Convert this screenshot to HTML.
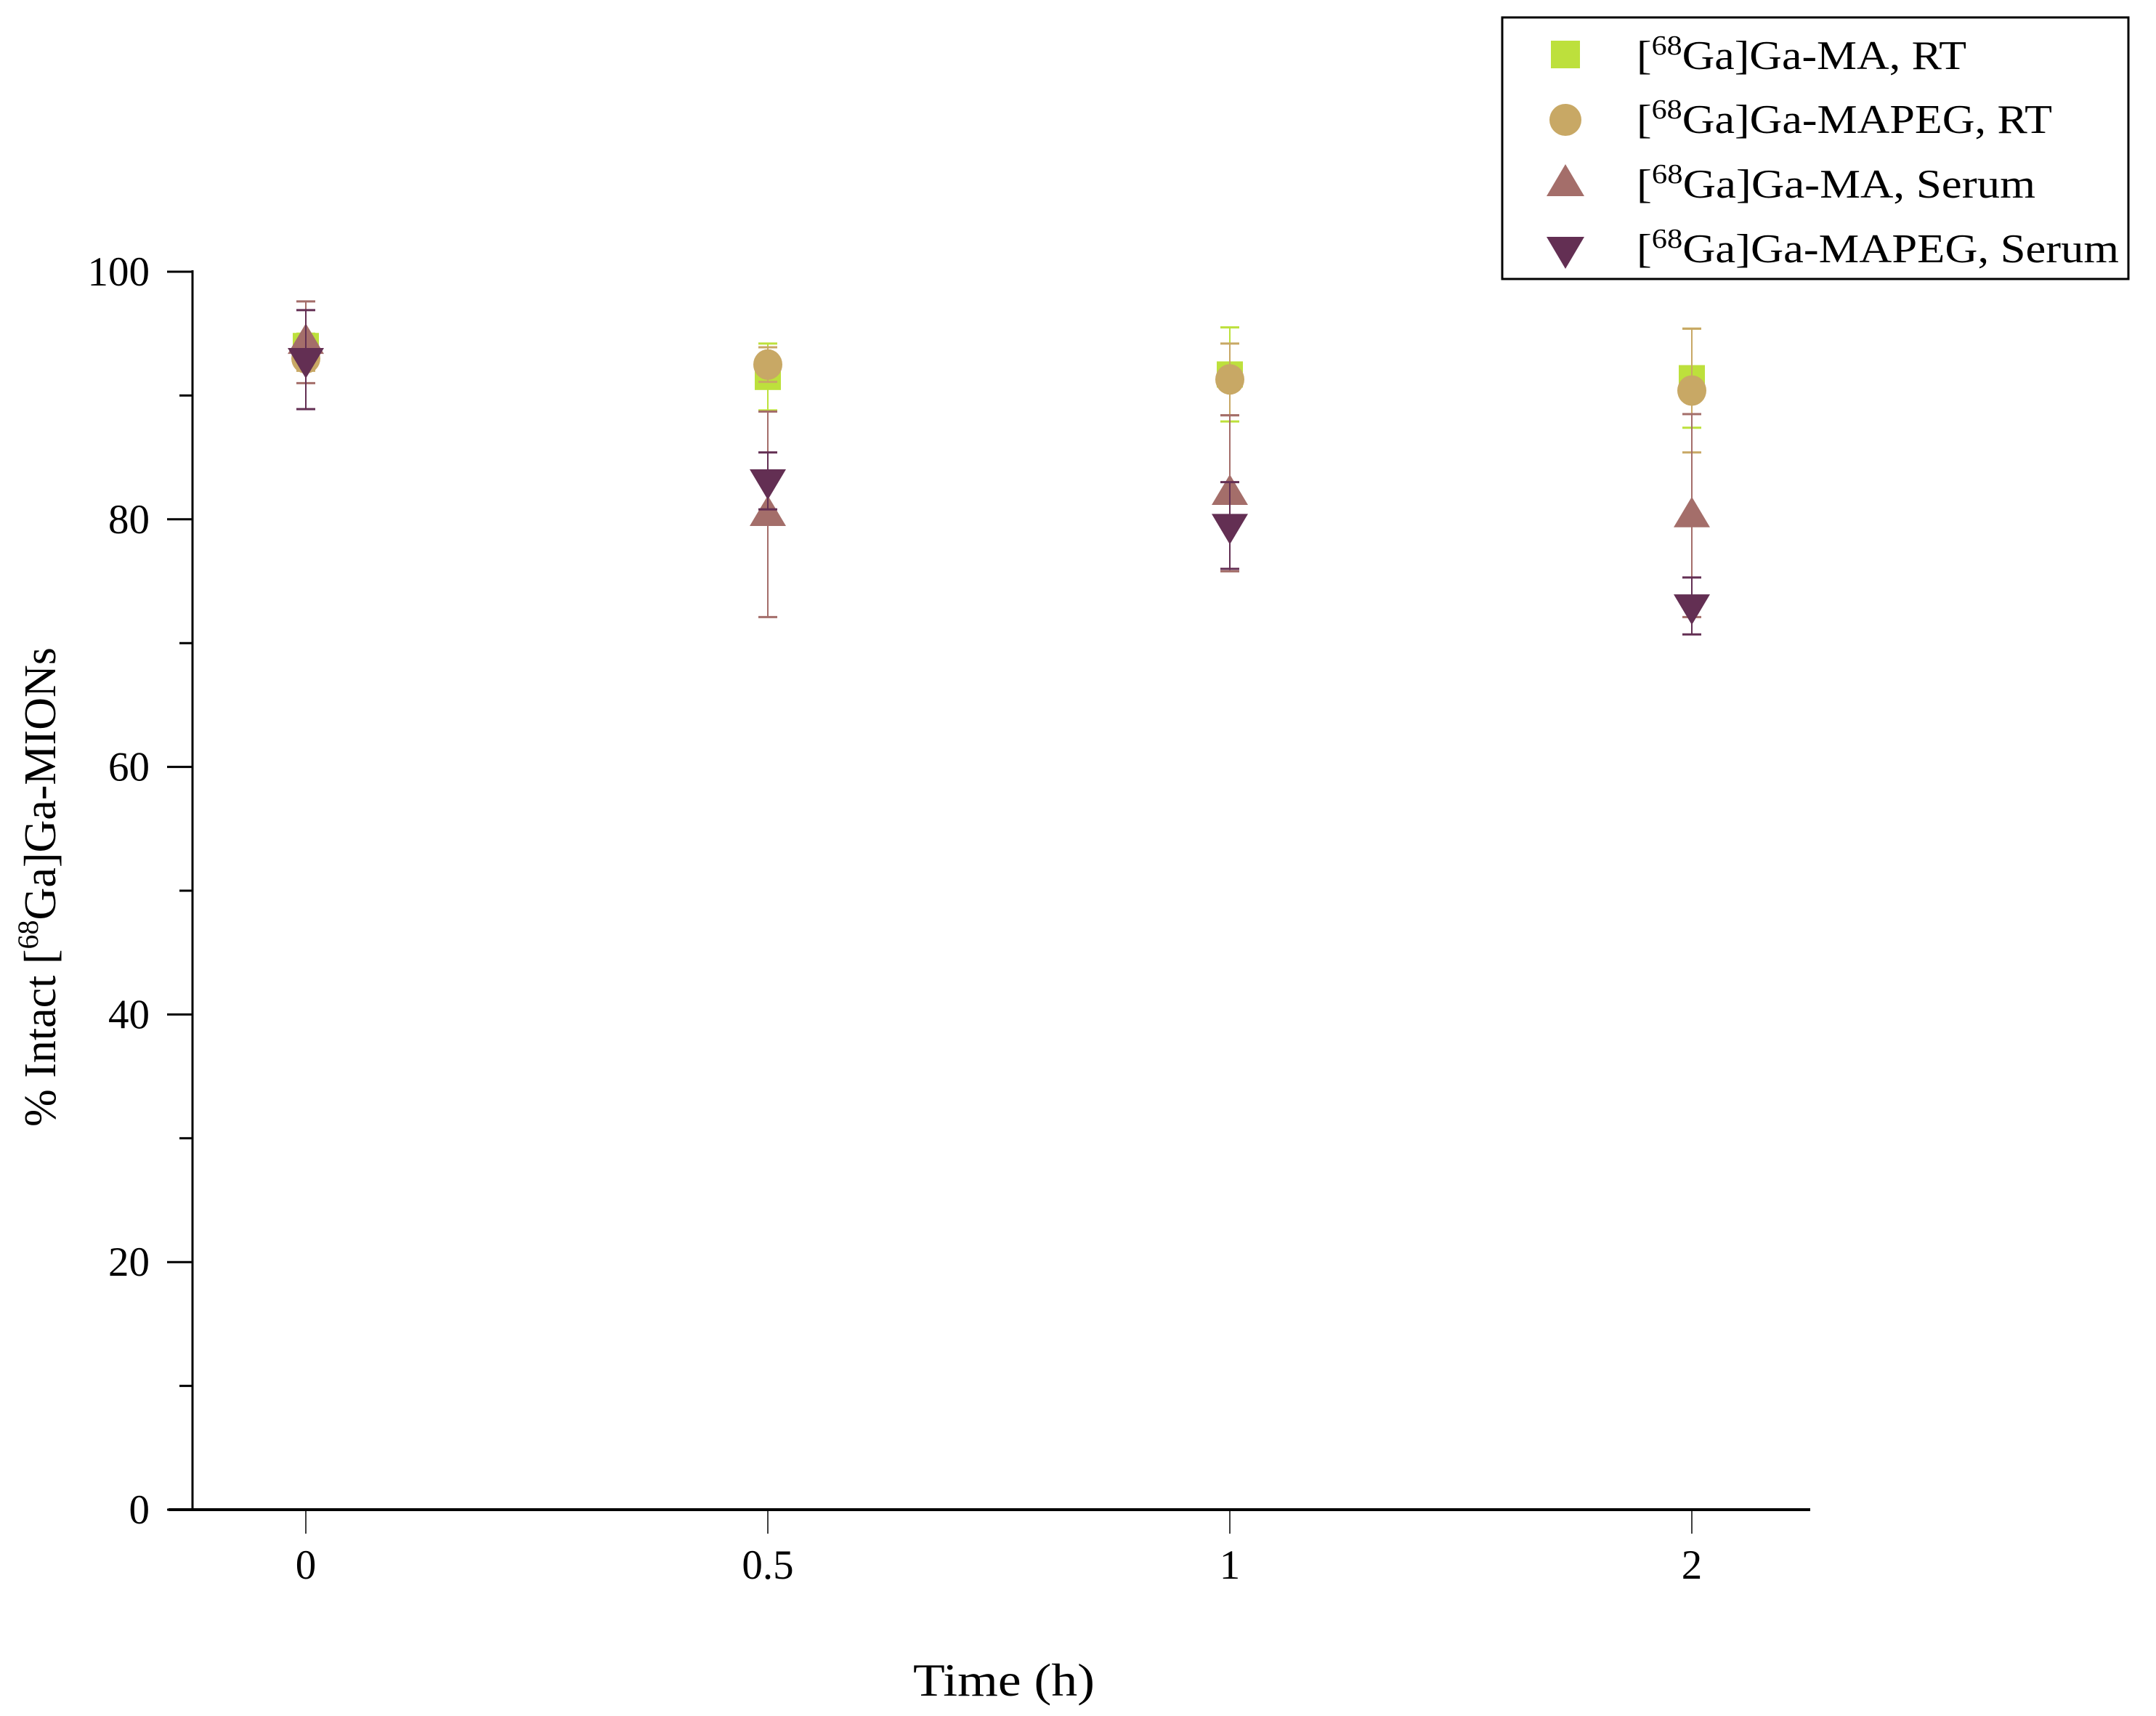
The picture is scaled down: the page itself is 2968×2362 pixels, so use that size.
<!DOCTYPE html>
<html><head><meta charset="utf-8">
<style>
html,body{margin:0;padding:0;background:#fff;}
svg{display:block;font-family:"Liberation Serif",serif;}
</style></head>
<body>
<svg id="chart" width="2968" height="2362" viewBox="0 0 2968 2362" xmlns="http://www.w3.org/2000/svg">
<g id="axes"></g>
<g id="plot"></g>
<text x="1382" y="2334" font-size="64" text-anchor="middle" textLength="250" lengthAdjust="spacingAndGlyphs">Time (h)</text>
<text transform="translate(76,1221) rotate(-90)" font-size="62" text-anchor="middle">% Intact [<tspan font-size="40" dy="-24">68</tspan><tspan dy="24">Ga]Ga-MIONs</tspan></text>
<g>
<rect x="2068" y="24" width="862" height="360" fill="#fff" stroke="#000" stroke-width="3"/>
<g>
<rect x="2135" y="56" width="40" height="38" fill="#bde03c"/>
<text x="2253" y="95" font-size="56" textLength="454" lengthAdjust="spacingAndGlyphs">[<tspan font-size="38" dy="-20">68</tspan><tspan dy="20">Ga]Ga-MA, RT</tspan></text></g>
<g>
<ellipse cx="2155" cy="165" rx="22" ry="22" fill="#c8a865"/>
<text x="2253" y="183" font-size="56" textLength="572" lengthAdjust="spacingAndGlyphs">[<tspan font-size="38" dy="-20">68</tspan><tspan dy="20">Ga]Ga-MAPEG, RT</tspan></text></g>
<g>
<polygon points="2155,226 2181,270 2129,270" fill="#a46e6a"/>
<text x="2253" y="272" font-size="56" textLength="549" lengthAdjust="spacingAndGlyphs">[<tspan font-size="38" dy="-20">68</tspan><tspan dy="20">Ga]Ga-MA, Serum</tspan></text></g>
<g>
<polygon points="2129,326 2181,326 2155,370" fill="#632f53"/>
<text x="2253" y="361" font-size="56" textLength="664" lengthAdjust="spacingAndGlyphs">[<tspan font-size="38" dy="-20">68</tspan><tspan dy="20">Ga]Ga-MAPEG, Serum</tspan></text></g>
</g>
</svg>
<script>
const categories = ["0", "0.5", "1", "2"];
const yTicks = [0, 20, 40, 60, 80, 100];
const maRT = [94.0, 91.5, 91.7, 91.4];
const maRTErr = [1.0, 2.7, 3.8, 4.0];
const mapegRT = [93.0, 92.5, 91.3, 90.4];
const mapegRTErr = [1.0, 1.4, 2.9, 5.0];
const maSerum = [94.3, 80.4, 82.1, 80.3];
const maSerumErr = [3.3, 8.3, 6.3, 8.2];
const mapegSerum = [92.9, 83.1, 79.5, 73.0];
const mapegSerumErr = [4.0, 2.3, 3.5, 2.3];

const NS = "http://www.w3.org/2000/svg";
const X0 = 421, DX = 636;
const Y0 = 2078, YH = 1704;
const yScale = v => Y0 - (v / 100) * YH;
const xScale = i => X0 + i * DX;
function mk(tag, attrs, parent) {
  const e = document.createElementNS(NS, tag);
  for (const k in attrs) e.setAttribute(k, attrs[k]);
  parent.appendChild(e);
  return e;
}
const axes = document.getElementById('axes');
const plot = document.getElementById('plot');
let e;
e = mk('line', {x1: 265, y1: yScale(100) - 2, x2: 265, y2: Y0, stroke: '#000', 'stroke-width': 3}, axes);


e = mk('line', {x1: 232, y1: Y0, x2: 2492, y2: Y0, stroke: '#000', 'stroke-width': 4}, axes);


for (let v = 0; v <= 100; v += 10) {
  const major = v % 20 === 0;
  e = mk('line', {x1: major ? 230 : 247, y1: yScale(v), x2: 265, y2: yScale(v), stroke: '#000', 'stroke-width': 3}, axes);
  
  
}
yTicks.forEach(v => {
  e = mk('text', {x: 206, y: yScale(v) + 19, 'font-size': 57, 'text-anchor': 'end'}, axes);
  e.textContent = v;
  
  
});
categories.forEach((c, i) => {
  e = mk('line', {x1: xScale(i), y1: Y0, x2: xScale(i), y2: Y0 + 33, stroke: '#000', 'stroke-width': 1.5}, axes);
  
  
  e = mk('text', {x: xScale(i), y: 2173, 'font-size': 57, 'text-anchor': 'middle'}, axes);
  e.textContent = c;
  
  
});
const series = [
  {vals: maRT, err: maRTErr, color: '#bde03c', shape: 'square', name: 'ma-rt'},
  {vals: mapegRT, err: mapegRTErr, color: '#c8a865', shape: 'circle', name: 'mapeg-rt'},
  {vals: maSerum, err: maSerumErr, color: '#a46e6a', shape: 'up', name: 'ma-serum'},
  {vals: mapegSerum, err: mapegSerumErr, color: '#632f53', shape: 'down', name: 'mapeg-serum'}
];
series.forEach(s => {
  const g = mk('g', {}, plot);
  
  
  s.vals.forEach((v, i) => {
    const x = xScale(i), y = yScale(v);
    const yt = yScale(v + s.err[i]), yb = yScale(v - s.err[i]);
    e = mk('line', {x1: x, y1: yt, x2: x, y2: yb, stroke: s.color, 'stroke-width': 2}, g);
    
    
    e = mk('line', {x1: x - 13, y1: yt, x2: x + 13, y2: yt, stroke: s.color, 'stroke-width': 3}, g);
    
    
    e = mk('line', {x1: x - 13, y1: yb, x2: x + 13, y2: yb, stroke: s.color, 'stroke-width': 3}, g);
    
    
    let m;
    if (s.shape === 'square') m = mk('rect', {x: x - 18, y: y - 18, width: 36, height: 36, fill: s.color}, g);
    else if (s.shape === 'circle') m = mk('ellipse', {cx: x, cy: y, rx: 20, ry: 21, fill: s.color}, g);
    else if (s.shape === 'up') m = mk('polygon', {points: `${x},${y - 26} ${x + 25},${y + 16} ${x - 25},${y + 16}`, fill: s.color}, g);
    else m = mk('polygon', {points: `${x - 25},${y - 16} ${x + 25},${y - 16} ${x},${y + 26}`, fill: s.color}, g);
    
    
  });
});
</script>
</body></html>
